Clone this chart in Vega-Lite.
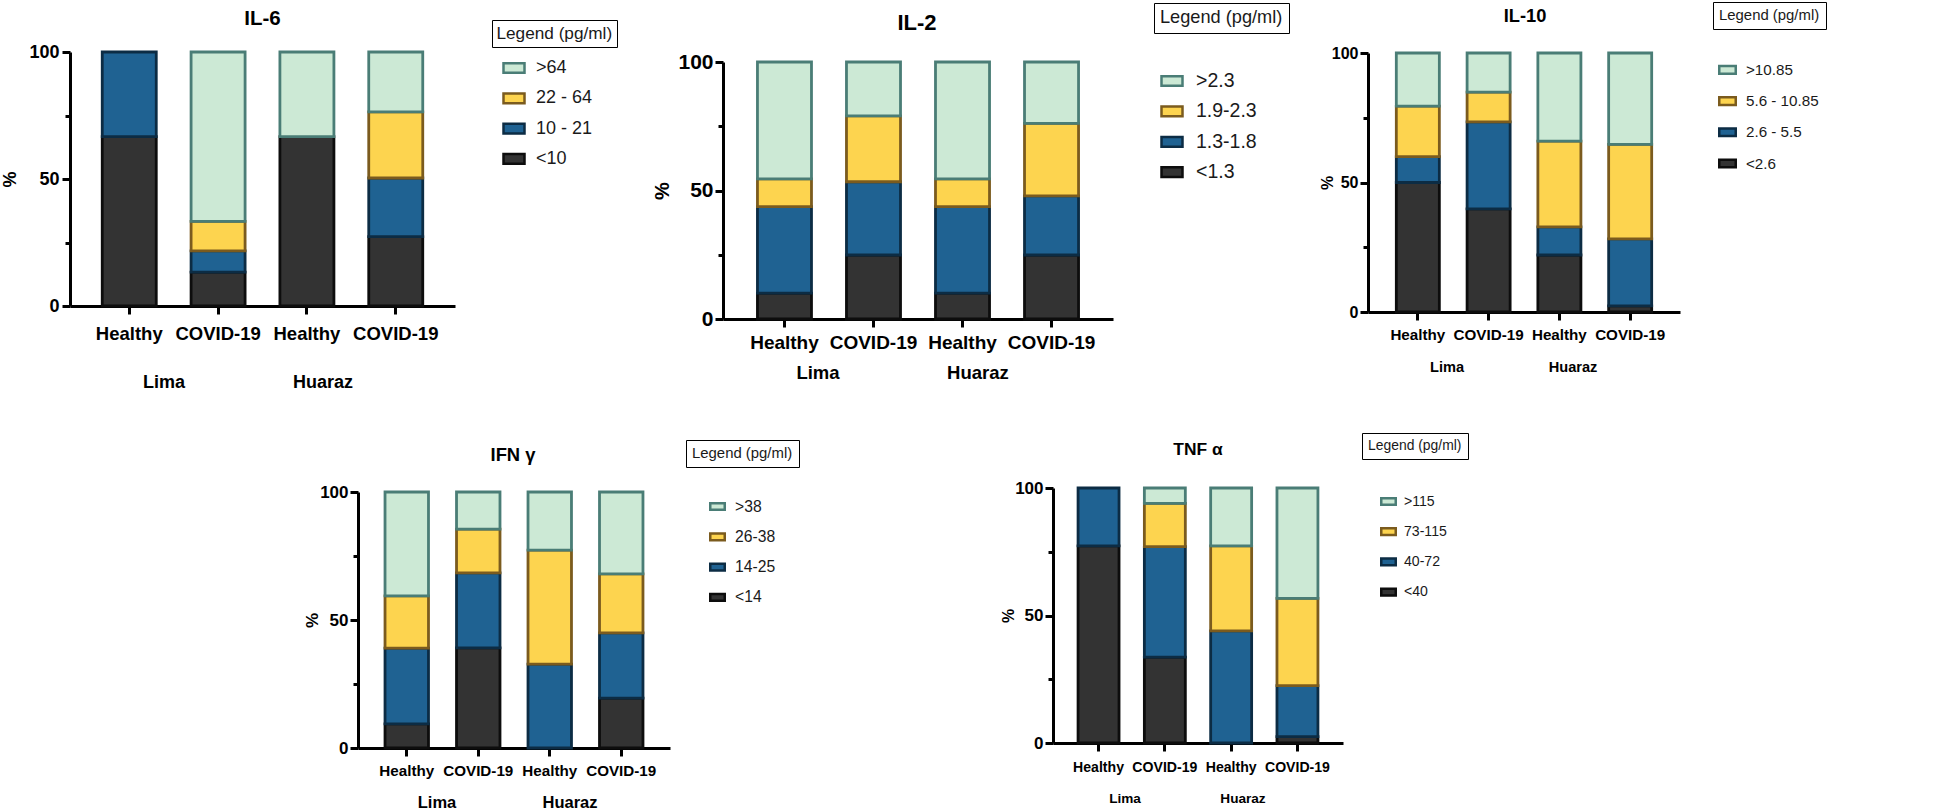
{
  "$schema": "https://vega.github.io/schema/vega-lite/v6.json",
  "padding": {"left": 1, "top": 1, "right": 0, "bottom": 0},
  "data": {"values": [
    {"p":"IL-6","city":"Lima","bar":"Lima Healthy","lv":1,"level":"<10","pct":66.7},
    {"p":"IL-6","city":"Lima","bar":"Lima Healthy","lv":2,"level":"10 - 21","pct":33.3},
    {"p":"IL-6","city":"Lima","bar":"Lima COVID-19","lv":1,"level":"<10","pct":13.3},
    {"p":"IL-6","city":"Lima","bar":"Lima COVID-19","lv":2,"level":"10 - 21","pct":8.4},
    {"p":"IL-6","city":"Lima","bar":"Lima COVID-19","lv":3,"level":"22 - 64","pct":11.6},
    {"p":"IL-6","city":"Lima","bar":"Lima COVID-19","lv":4,"level":">64","pct":66.7},
    {"p":"IL-6","city":"Huaraz","bar":"Huaraz Healthy","lv":1,"level":"<10","pct":66.7},
    {"p":"IL-6","city":"Huaraz","bar":"Huaraz Healthy","lv":4,"level":">64","pct":33.3},
    {"p":"IL-6","city":"Huaraz","bar":"Huaraz COVID-19","lv":1,"level":"<10","pct":27.3},
    {"p":"IL-6","city":"Huaraz","bar":"Huaraz COVID-19","lv":2,"level":"10 - 21","pct":23.1},
    {"p":"IL-6","city":"Huaraz","bar":"Huaraz COVID-19","lv":3,"level":"22 - 64","pct":26.0},
    {"p":"IL-6","city":"Huaraz","bar":"Huaraz COVID-19","lv":4,"level":">64","pct":23.6},

    {"p":"IL-2","city":"Lima","bar":"Lima Healthy","lv":1,"level":"<1.3","pct":10.1},
    {"p":"IL-2","city":"Lima","bar":"Lima Healthy","lv":2,"level":"1.3-1.8","pct":33.6},
    {"p":"IL-2","city":"Lima","bar":"Lima Healthy","lv":3,"level":"1.9-2.3","pct":10.8},
    {"p":"IL-2","city":"Lima","bar":"Lima Healthy","lv":4,"level":">2.3","pct":45.5},
    {"p":"IL-2","city":"Lima","bar":"Lima COVID-19","lv":1,"level":"<1.3","pct":24.9},
    {"p":"IL-2","city":"Lima","bar":"Lima COVID-19","lv":2,"level":"1.3-1.8","pct":28.5},
    {"p":"IL-2","city":"Lima","bar":"Lima COVID-19","lv":3,"level":"1.9-2.3","pct":25.6},
    {"p":"IL-2","city":"Lima","bar":"Lima COVID-19","lv":4,"level":">2.3","pct":21.0},
    {"p":"IL-2","city":"Huaraz","bar":"Huaraz Healthy","lv":1,"level":"<1.3","pct":10.1},
    {"p":"IL-2","city":"Huaraz","bar":"Huaraz Healthy","lv":2,"level":"1.3-1.8","pct":33.6},
    {"p":"IL-2","city":"Huaraz","bar":"Huaraz Healthy","lv":3,"level":"1.9-2.3","pct":10.8},
    {"p":"IL-2","city":"Huaraz","bar":"Huaraz Healthy","lv":4,"level":">2.3","pct":45.5},
    {"p":"IL-2","city":"Huaraz","bar":"Huaraz COVID-19","lv":1,"level":"<1.3","pct":24.9},
    {"p":"IL-2","city":"Huaraz","bar":"Huaraz COVID-19","lv":2,"level":"1.3-1.8","pct":23.0},
    {"p":"IL-2","city":"Huaraz","bar":"Huaraz COVID-19","lv":3,"level":"1.9-2.3","pct":28.2},
    {"p":"IL-2","city":"Huaraz","bar":"Huaraz COVID-19","lv":4,"level":">2.3","pct":23.9},

    {"p":"IL-10","city":"Lima","bar":"Lima Healthy","lv":1,"level":"<2.6","pct":50.0},
    {"p":"IL-10","city":"Lima","bar":"Lima Healthy","lv":2,"level":"2.6 - 5.5","pct":10.0},
    {"p":"IL-10","city":"Lima","bar":"Lima Healthy","lv":3,"level":"5.6 - 10.85","pct":19.5},
    {"p":"IL-10","city":"Lima","bar":"Lima Healthy","lv":4,"level":">10.85","pct":20.5},
    {"p":"IL-10","city":"Lima","bar":"Lima COVID-19","lv":1,"level":"<2.6","pct":39.8},
    {"p":"IL-10","city":"Lima","bar":"Lima COVID-19","lv":2,"level":"2.6 - 5.5","pct":33.6},
    {"p":"IL-10","city":"Lima","bar":"Lima COVID-19","lv":3,"level":"5.6 - 10.85","pct":11.5},
    {"p":"IL-10","city":"Lima","bar":"Lima COVID-19","lv":4,"level":">10.85","pct":15.1},
    {"p":"IL-10","city":"Huaraz","bar":"Huaraz Healthy","lv":1,"level":"<2.6","pct":22.0},
    {"p":"IL-10","city":"Huaraz","bar":"Huaraz Healthy","lv":2,"level":"2.6 - 5.5","pct":10.9},
    {"p":"IL-10","city":"Huaraz","bar":"Huaraz Healthy","lv":3,"level":"5.6 - 10.85","pct":33.1},
    {"p":"IL-10","city":"Huaraz","bar":"Huaraz Healthy","lv":4,"level":">10.85","pct":34.0},
    {"p":"IL-10","city":"Huaraz","bar":"Huaraz COVID-19","lv":1,"level":"<2.6","pct":2.4},
    {"p":"IL-10","city":"Huaraz","bar":"Huaraz COVID-19","lv":2,"level":"2.6 - 5.5","pct":25.8},
    {"p":"IL-10","city":"Huaraz","bar":"Huaraz COVID-19","lv":3,"level":"5.6 - 10.85","pct":36.5},
    {"p":"IL-10","city":"Huaraz","bar":"Huaraz COVID-19","lv":4,"level":">10.85","pct":35.3},

    {"p":"IFN","city":"Lima","bar":"Lima Healthy","lv":1,"level":"<14","pct":9.4},
    {"p":"IFN","city":"Lima","bar":"Lima Healthy","lv":2,"level":"14-25","pct":29.6},
    {"p":"IFN","city":"Lima","bar":"Lima Healthy","lv":3,"level":"26-38","pct":20.4},
    {"p":"IFN","city":"Lima","bar":"Lima Healthy","lv":4,"level":">38","pct":40.6},
    {"p":"IFN","city":"Lima","bar":"Lima COVID-19","lv":1,"level":"<14","pct":39.1},
    {"p":"IFN","city":"Lima","bar":"Lima COVID-19","lv":2,"level":"14-25","pct":29.3},
    {"p":"IFN","city":"Lima","bar":"Lima COVID-19","lv":3,"level":"26-38","pct":17.1},
    {"p":"IFN","city":"Lima","bar":"Lima COVID-19","lv":4,"level":">38","pct":14.5},
    {"p":"IFN","city":"Huaraz","bar":"Huaraz Healthy","lv":2,"level":"14-25","pct":32.8},
    {"p":"IFN","city":"Huaraz","bar":"Huaraz Healthy","lv":3,"level":"26-38","pct":44.5},
    {"p":"IFN","city":"Huaraz","bar":"Huaraz Healthy","lv":4,"level":">38","pct":22.7},
    {"p":"IFN","city":"Huaraz","bar":"Huaraz COVID-19","lv":1,"level":"<14","pct":19.5},
    {"p":"IFN","city":"Huaraz","bar":"Huaraz COVID-19","lv":2,"level":"14-25","pct":25.5},
    {"p":"IFN","city":"Huaraz","bar":"Huaraz COVID-19","lv":3,"level":"26-38","pct":23.0},
    {"p":"IFN","city":"Huaraz","bar":"Huaraz COVID-19","lv":4,"level":">38","pct":32.0},

    {"p":"TNF","city":"Lima","bar":"Lima Healthy","lv":1,"level":"<40","pct":77.3},
    {"p":"TNF","city":"Lima","bar":"Lima Healthy","lv":2,"level":"40-72","pct":22.7},
    {"p":"TNF","city":"Lima","bar":"Lima COVID-19","lv":1,"level":"<40","pct":33.7},
    {"p":"TNF","city":"Lima","bar":"Lima COVID-19","lv":2,"level":"40-72","pct":43.3},
    {"p":"TNF","city":"Lima","bar":"Lima COVID-19","lv":3,"level":"73-115","pct":17.0},
    {"p":"TNF","city":"Lima","bar":"Lima COVID-19","lv":4,"level":">115","pct":6.0},
    {"p":"TNF","city":"Huaraz","bar":"Huaraz Healthy","lv":2,"level":"40-72","pct":44.0},
    {"p":"TNF","city":"Huaraz","bar":"Huaraz Healthy","lv":3,"level":"73-115","pct":33.3},
    {"p":"TNF","city":"Huaraz","bar":"Huaraz Healthy","lv":4,"level":">115","pct":22.7},
    {"p":"TNF","city":"Huaraz","bar":"Huaraz COVID-19","lv":1,"level":"<40","pct":2.5},
    {"p":"TNF","city":"Huaraz","bar":"Huaraz COVID-19","lv":2,"level":"40-72","pct":20.0},
    {"p":"TNF","city":"Huaraz","bar":"Huaraz COVID-19","lv":3,"level":"73-115","pct":34.2},
    {"p":"TNF","city":"Huaraz","bar":"Huaraz COVID-19","lv":4,"level":">115","pct":43.3}
  ]},
  "spacing": 41,
  "resolve": {"scale": {"fill": "independent", "stroke": "independent", "opacity": "independent"}, "legend": {"fill": "independent", "stroke": "independent", "opacity": "independent"}},
  "vconcat": [
    {
      "hconcat": [
        {
          "width": 398, "height": 254,
          "title": {"text": "IL-6", "fontSize": 20.5, "offset": -9.5, "dx": -6.5, "anchor": "middle", "frame": "group"},
          "transform": [{"filter": "datum.p === 'IL-6'"}],
          "resolve": {"scale": {"x": "independent"}, "axis": {"x": "independent"}},
          "layer": [
            {
              "mark": {"type": "bar", "strokeWidth": 2.8},
              "encoding": {
                "x": {"field": "bar", "type": "nominal", "sort": ["Lima Healthy", "Lima COVID-19", "Huaraz Healthy", "Huaraz COVID-19"],
                      "scale": {"range": [0, 385], "paddingInner": 0.392, "paddingOuter": 0.363},
                      "axis": {"orient": "bottom", "title": null, "labelAngle": 0, "labelExpr": "split(datum.label, ' ')[1]", "tickSize": 8, "labelPadding": 10, "labelFontSize": 18.5}},
                "y": {"field": "pct", "type": "quantitative", "stack": "zero",
                      "scale": {"domain": [0, 100], "range": [254, 0], "nice": false},
                      "axis": {"title": "%", "titleX": -60, "titleAlign": "center", "titleBaseline": "middle", "titleFontSize": 18, "values": [0, 25, 50, 75, 100], "labelExpr": "datum.value % 50 === 0 ? datum.label : ''", "tickSize": {"condition": {"test": "datum.value % 50 === 0", "value": 8}, "value": 5}, "labelFontSize": 18, "labelPadding": 3}},
                "fill": {"field": "level", "type": "nominal", "scale": {"domain": [">64", "22 - 64", "10 - 21", "<10"], "range": ["#cce9d5", "#fdd44f", "#1f6292", "#333333"]},
                         "legend": {"title": null, "orient": "none", "legendX": 432, "legendY": 4, "symbolType": "M-1,-0.46L1,-0.46L1,0.46L-1,0.46Z", "symbolSize": 441, "symbolStrokeWidth": 2.5, "labelFontSize": 18, "labelOffset": 10, "rowPadding": 8.3, "padding": 0}},
                "stroke": {"field": "level", "type": "nominal", "scale": {"domain": [">64", "22 - 64", "10 - 21", "<10"], "range": ["#4a7d76", "#7b5b1e", "#0c2c44", "#0d0d0d"]},
                         "legend": {"title": null, "orient": "none", "legendX": 432, "legendY": 4, "symbolType": "M-1,-0.46L1,-0.46L1,0.46L-1,0.46Z", "symbolSize": 441, "symbolStrokeWidth": 2.5, "labelFontSize": 18, "labelOffset": 10, "rowPadding": 8.3, "padding": 0}},
                "order": {"field": "lv", "type": "quantitative", "sort": "ascending"}
              }
            },
            {
              "mark": {"type": "point"},
              "encoding": {
                "x": {"field": "city", "type": "nominal", "sort": ["Lima", "Huaraz"],
                      "scale": {"type": "band", "range": [0, 385], "paddingInner": 0, "paddingOuter": 0.211, "align": 0.216},
                      "axis": {"orient": "bottom", "title": null, "domain": false, "ticks": false, "tickSize": 0, "labelAngle": 0, "labelPadding": 67, "labelFontSize": 18}},
                "opacity": {"field": "p", "type": "ordinal", "scale": {"range": [0, 0]},
                            "legend": {"title": "Legend (pg/ml)", "orient": "none", "legendX": 422, "legendY": -32, "strokeColor": "black", "padding": 4.5, "titleFontSize": 17.2, "titlePadding": 0, "symbolSize": 1, "labelFontSize": 1, "labelOpacity": 0, "labelOffset": 0, "rowPadding": 0, "encode": {"legend": {"update": {"strokeWidth": {"value": 2}}}}}}
              }
            }
          ]
        },
        {
          "width": 390, "height": 267,
          "title": {"text": "IL-2", "fontSize": 22, "offset": -32, "dx": -1, "anchor": "middle", "frame": "group"},
          "transform": [{"filter": "datum.p === 'IL-2'"}],
          "resolve": {"scale": {"x": "independent"}, "axis": {"x": "independent"}},
          "layer": [
            {
              "mark": {"type": "bar", "strokeWidth": 2.8},
              "encoding": {
                "x": {"field": "bar", "type": "nominal", "sort": ["Lima Healthy", "Lima COVID-19", "Huaraz Healthy", "Huaraz COVID-19"],
                      "scale": {"range": [0, 390], "paddingInner": 0.393, "paddingOuter": 0.387},
                      "axis": {"orient": "bottom", "title": null, "labelAngle": 0, "labelExpr": "split(datum.label, ' ')[1]", "tickSize": 8, "labelPadding": 6.5, "labelFontSize": 19}},
                "y": {"field": "pct", "type": "quantitative", "stack": "zero",
                      "scale": {"domain": [0, 100], "range": [267, 10], "nice": false},
                      "axis": {"title": "%", "titleX": -61, "titleAlign": "center", "titleBaseline": "middle", "titleFontSize": 20, "values": [0, 25, 50, 75, 100], "labelExpr": "datum.value % 50 === 0 ? datum.label : ''", "tickSize": {"condition": {"test": "datum.value % 50 === 0", "value": 8}, "value": 5}, "labelFontSize": 21, "labelPadding": 2}},
                "fill": {"field": "level", "type": "nominal", "scale": {"domain": [">2.3", "1.9-2.3", "1.3-1.8", "<1.3"], "range": ["#cce9d5", "#fdd44f", "#1f6292", "#333333"]},
                         "legend": {"title": null, "orient": "none", "legendX": 437, "legendY": 17, "symbolType": "M-1,-0.46L1,-0.46L1,0.46L-1,0.46Z", "symbolSize": 441, "symbolStrokeWidth": 2.5, "labelFontSize": 19.5, "labelOffset": 12, "rowPadding": 8.4, "padding": 0}},
                "stroke": {"field": "level", "type": "nominal", "scale": {"domain": [">2.3", "1.9-2.3", "1.3-1.8", "<1.3"], "range": ["#4a7d76", "#7b5b1e", "#0c2c44", "#0d0d0d"]},
                         "legend": {"title": null, "orient": "none", "legendX": 437, "legendY": 17, "symbolType": "M-1,-0.46L1,-0.46L1,0.46L-1,0.46Z", "symbolSize": 441, "symbolStrokeWidth": 2.5, "labelFontSize": 19.5, "labelOffset": 12, "rowPadding": 8.4, "padding": 0}},
                "order": {"field": "lv", "type": "quantitative", "sort": "ascending"}
              }
            },
            {
              "mark": {"type": "point"},
              "encoding": {
                "x": {"field": "city", "type": "nominal", "sort": ["Lima", "Huaraz"],
                      "scale": {"type": "band", "range": [0, 390], "paddingInner": 0, "paddingOuter": 0.219, "align": 0.214},
                      "axis": {"orient": "bottom", "title": null, "domain": false, "ticks": false, "tickSize": 0, "labelAngle": 0, "labelPadding": 44.5, "labelFontSize": 18.5}},
                "opacity": {"field": "p", "type": "ordinal", "scale": {"range": [0, 0]},
                            "legend": {"title": "Legend (pg/ml)", "orient": "none", "legendX": 431, "legendY": -49, "strokeColor": "black", "padding": 6, "titleFontSize": 18.2, "titlePadding": 0, "symbolSize": 1, "labelFontSize": 1, "labelOpacity": 0, "labelOffset": 0, "rowPadding": 0, "encode": {"legend": {"update": {"strokeWidth": {"value": 2}}}}}}
              }
            }
          ]
        },
        {
          "width": 312, "height": 260,
          "title": {"text": "IL-10", "fontSize": 18.3, "offset": -25, "dx": 1, "anchor": "middle", "frame": "group"},
          "transform": [{"filter": "datum.p === 'IL-10'"}],
          "resolve": {"scale": {"x": "independent"}, "axis": {"x": "independent"}},
          "layer": [
            {
              "mark": {"type": "bar", "strokeWidth": 2.8},
              "encoding": {
                "x": {"field": "bar", "type": "nominal", "sort": ["Lima Healthy", "Lima COVID-19", "Huaraz Healthy", "Huaraz COVID-19"],
                      "scale": {"range": [0, 312], "paddingInner": 0.392, "paddingOuter": 0.4},
                      "axis": {"orient": "bottom", "title": null, "labelAngle": 0, "labelExpr": "split(datum.label, ' ')[1]", "tickSize": 8, "labelPadding": 7, "labelFontSize": 15.2}},
                "y": {"field": "pct", "type": "quantitative", "stack": "zero",
                      "scale": {"domain": [0, 100], "range": [260, 1], "nice": false},
                      "axis": {"title": "%", "titleX": -41, "titleAlign": "center", "titleBaseline": "middle", "titleFontSize": 16, "values": [0, 25, 50, 75, 100], "labelExpr": "datum.value % 50 === 0 ? datum.label : ''", "tickSize": {"condition": {"test": "datum.value % 50 === 0", "value": 8}, "value": 5}, "labelFontSize": 16, "labelPadding": 2}},
                "fill": {"field": "level", "type": "nominal", "scale": {"domain": [">10.85", "5.6 - 10.85", "2.6 - 5.5", "<2.6"], "range": ["#cce9d5", "#fdd44f", "#1f6292", "#333333"]},
                         "legend": {"title": null, "orient": "none", "legendX": 350, "legendY": 8.4, "symbolType": "M-1,-0.46L1,-0.46L1,0.46L-1,0.46Z", "symbolSize": 272, "symbolStrokeWidth": 2.5, "labelFontSize": 15.2, "labelOffset": 9, "rowPadding": 12.2, "padding": 0}},
                "stroke": {"field": "level", "type": "nominal", "scale": {"domain": [">10.85", "5.6 - 10.85", "2.6 - 5.5", "<2.6"], "range": ["#4a7d76", "#7b5b1e", "#0c2c44", "#0d0d0d"]},
                         "legend": {"title": null, "orient": "none", "legendX": 350, "legendY": 8.4, "symbolType": "M-1,-0.46L1,-0.46L1,0.46L-1,0.46Z", "symbolSize": 272, "symbolStrokeWidth": 2.5, "labelFontSize": 15.2, "labelOffset": 9, "rowPadding": 12.2, "padding": 0}},
                "order": {"field": "lv", "type": "quantitative", "sort": "ascending"}
              }
            },
            {
              "mark": {"type": "point"},
              "encoding": {
                "x": {"field": "city", "type": "nominal", "sort": ["Lima", "Huaraz"],
                      "scale": {"type": "band", "range": [0, 312], "paddingInner": 0, "paddingOuter": 0.238, "align": 0.267},
                      "axis": {"orient": "bottom", "title": null, "domain": false, "ticks": false, "tickSize": 0, "labelAngle": 0, "labelPadding": 47.7, "labelFontSize": 14.6}},
                "opacity": {"field": "p", "type": "ordinal", "scale": {"range": [0, 0]},
                            "legend": {"title": "Legend (pg/ml)", "orient": "none", "legendX": 345, "legendY": -50, "strokeColor": "black", "padding": 6, "titleFontSize": 14.9, "titlePadding": 0, "symbolSize": 1, "labelFontSize": 1, "labelOpacity": 0, "labelOffset": 0, "rowPadding": 0, "encode": {"legend": {"update": {"strokeWidth": {"value": 2}}}}}}
              }
            }
          ]
        }
      ],
      "spacing": 255,
      "bounds": "flush",
      "resolve": {"scale": {"fill": "independent", "stroke": "independent", "opacity": "independent"}, "legend": {"fill": "independent", "stroke": "independent", "opacity": "independent"}}
    },
    {
      "hconcat": [
        {
          "width": 278, "height": 1,
          "data": {"values": []},
          "mark": "point"
        },
        {
          "width": 685, "height": 260,
          "title": {"text": "IFN γ", "fontSize": 18.4, "offset": -25, "dx": -187.5, "anchor": "middle", "frame": "group"},
          "transform": [{"filter": "datum.p === 'IFN'"}],
          "resolve": {"scale": {"x": "independent"}, "axis": {"x": "independent"}},
          "layer": [
            {
              "mark": {"type": "bar", "strokeWidth": 2.8},
              "encoding": {
                "x": {"field": "bar", "type": "nominal", "sort": ["Lima Healthy", "Lima COVID-19", "Huaraz Healthy", "Huaraz COVID-19"],
                      "scale": {"range": [0, 312], "paddingInner": 0.392, "paddingOuter": 0.378},
                      "axis": {"orient": "bottom", "title": null, "labelAngle": 0, "labelExpr": "split(datum.label, ' ')[1]", "tickSize": 8, "labelPadding": 7, "labelFontSize": 15.2}},
                "y": {"field": "pct", "type": "quantitative", "stack": "zero",
                      "scale": {"domain": [0, 100], "range": [260, 4], "nice": false},
                      "axis": {"title": "%", "titleX": -46, "titleAlign": "center", "titleBaseline": "middle", "titleFontSize": 17, "values": [0, 25, 50, 75, 100], "labelExpr": "datum.value % 50 === 0 ? datum.label : ''", "tickSize": {"condition": {"test": "datum.value % 50 === 0", "value": 8}, "value": 5}, "labelFontSize": 17, "labelPadding": 2}},
                "fill": {"field": "level", "type": "nominal", "scale": {"domain": [">38", "26-38", "14-25", "<14"], "range": ["#cce9d5", "#fdd44f", "#1f6292", "#333333"]},
                         "legend": {"title": null, "orient": "none", "legendX": 351, "legendY": 10, "symbolType": "M-1,-0.46L1,-0.46L1,0.46L-1,0.46Z", "symbolSize": 210, "symbolStrokeWidth": 2.5, "labelFontSize": 15.7, "labelOffset": 9, "rowPadding": 13.3, "padding": 0}},
                "stroke": {"field": "level", "type": "nominal", "scale": {"domain": [">38", "26-38", "14-25", "<14"], "range": ["#4a7d76", "#7b5b1e", "#0c2c44", "#0d0d0d"]},
                         "legend": {"title": null, "orient": "none", "legendX": 351, "legendY": 10, "symbolType": "M-1,-0.46L1,-0.46L1,0.46L-1,0.46Z", "symbolSize": 210, "symbolStrokeWidth": 2.5, "labelFontSize": 15.7, "labelOffset": 9, "rowPadding": 13.3, "padding": 0}},
                "order": {"field": "lv", "type": "quantitative", "sort": "ascending"}
              }
            },
            {
              "mark": {"type": "point"},
              "encoding": {
                "x": {"field": "city", "type": "nominal", "sort": ["Lima", "Huaraz"],
                      "scale": {"type": "band", "range": [0, 312], "paddingInner": 0, "paddingOuter": 0.173, "align": 0.272},
                      "axis": {"orient": "bottom", "title": null, "domain": false, "ticks": false, "tickSize": 0, "labelAngle": 0, "labelPadding": 46.8, "labelFontSize": 16.5}},
                "opacity": {"field": "p", "type": "ordinal", "scale": {"range": [0, 0]},
                            "legend": {"title": "Legend (pg/ml)", "orient": "none", "legendX": 328, "legendY": -48, "strokeColor": "black", "padding": 6, "titleFontSize": 14.9, "titlePadding": 0, "symbolSize": 1, "labelFontSize": 1, "labelOpacity": 0, "labelOffset": 0, "rowPadding": 0, "encode": {"legend": {"update": {"strokeWidth": {"value": 2}}}}}}
              }
            }
          ]
        },
        {
          "width": 290, "height": 255,
          "title": {"text": "TNF α", "fontSize": 17.4, "offset": -25.5, "anchor": "middle", "frame": "group"},
          "transform": [{"filter": "datum.p === 'TNF'"}],
          "resolve": {"scale": {"x": "independent"}, "axis": {"x": "independent"}},
          "layer": [
            {
              "mark": {"type": "bar", "strokeWidth": 2.8},
              "encoding": {
                "x": {"field": "bar", "type": "nominal", "sort": ["Lima Healthy", "Lima COVID-19", "Huaraz Healthy", "Huaraz COVID-19"],
                      "scale": {"range": [0, 290], "paddingInner": 0.382, "paddingOuter": 0.378},
                      "axis": {"orient": "bottom", "title": null, "labelAngle": 0, "labelExpr": "split(datum.label, ' ')[1]", "tickSize": 8, "labelPadding": 9, "labelFontSize": 14.1}},
                "y": {"field": "pct", "type": "quantitative", "stack": "zero",
                      "scale": {"domain": [0, 100], "range": [255, 0], "nice": false},
                      "axis": {"title": "%", "titleX": -45, "titleAlign": "center", "titleBaseline": "middle", "titleFontSize": 16, "values": [0, 25, 50, 75, 100], "labelExpr": "datum.value % 50 === 0 ? datum.label : ''", "tickSize": {"condition": {"test": "datum.value % 50 === 0", "value": 8}, "value": 5}, "labelFontSize": 17, "labelPadding": 2}},
                "fill": {"field": "level", "type": "nominal", "scale": {"domain": [">115", "73-115", "40-72", "<40"], "range": ["#cce9d5", "#fdd44f", "#1f6292", "#333333"]},
                         "legend": {"title": null, "orient": "none", "legendX": 327, "legendY": 5, "symbolType": "M-1,-0.46L1,-0.46L1,0.46L-1,0.46Z", "symbolSize": 210, "symbolStrokeWidth": 2.5, "labelFontSize": 14.1, "labelOffset": 7, "rowPadding": 13.2, "padding": 0}},
                "stroke": {"field": "level", "type": "nominal", "scale": {"domain": [">115", "73-115", "40-72", "<40"], "range": ["#4a7d76", "#7b5b1e", "#0c2c44", "#0d0d0d"]},
                         "legend": {"title": null, "orient": "none", "legendX": 327, "legendY": 5, "symbolType": "M-1,-0.46L1,-0.46L1,0.46L-1,0.46Z", "symbolSize": 210, "symbolStrokeWidth": 2.5, "labelFontSize": 14.1, "labelOffset": 7, "rowPadding": 13.2, "padding": 0}},
                "order": {"field": "lv", "type": "quantitative", "sort": "ascending"}
              }
            },
            {
              "mark": {"type": "point"},
              "encoding": {
                "x": {"field": "city", "type": "nominal", "sort": ["Lima", "Huaraz"],
                      "scale": {"type": "band", "range": [0, 290], "paddingInner": 0, "paddingOuter": 0.229, "align": 0.241},
                      "axis": {"orient": "bottom", "title": null, "domain": false, "ticks": false, "tickSize": 0, "labelAngle": 0, "labelPadding": 48, "labelFontSize": 13.6}},
                "opacity": {"field": "p", "type": "ordinal", "scale": {"range": [0, 0]},
                            "legend": {"title": "Legend (pg/ml)", "orient": "none", "legendX": 309, "legendY": -55, "strokeColor": "black", "padding": 6, "titleFontSize": 13.9, "titlePadding": 0, "symbolSize": 1, "labelFontSize": 1, "labelOpacity": 0, "labelOffset": 0, "rowPadding": 0, "encode": {"legend": {"update": {"strokeWidth": {"value": 2}}}}}}
              }
            }
          ]
        }
      ],
      "spacing": 10,
      "bounds": "flush",
      "resolve": {"scale": {"fill": "independent", "stroke": "independent", "opacity": "independent"}, "legend": {"fill": "independent", "stroke": "independent", "opacity": "independent"}}
    }
  ],
  "config": {
    "view": {"stroke": null},
    "font": "Liberation Sans",
    "axis": {"domainColor": "#000000", "domainWidth": 3, "tickColor": "#000000", "tickWidth": 3, "labelColor": "#000000", "labelFontWeight": "bold", "titleFontWeight": "bold", "titleColor": "#000000", "grid": false, "labelFont": "Liberation Sans", "titleFont": "Liberation Sans"},
    "legend": {"labelFont": "Liberation Sans", "titleFont": "Liberation Sans", "labelColor": "#1a1a1a", "titleColor": "#1a1a1a", "titleFontWeight": "normal"},
    "title": {"font": "Liberation Sans", "fontWeight": "bold", "color": "#000000"}
  }
}
